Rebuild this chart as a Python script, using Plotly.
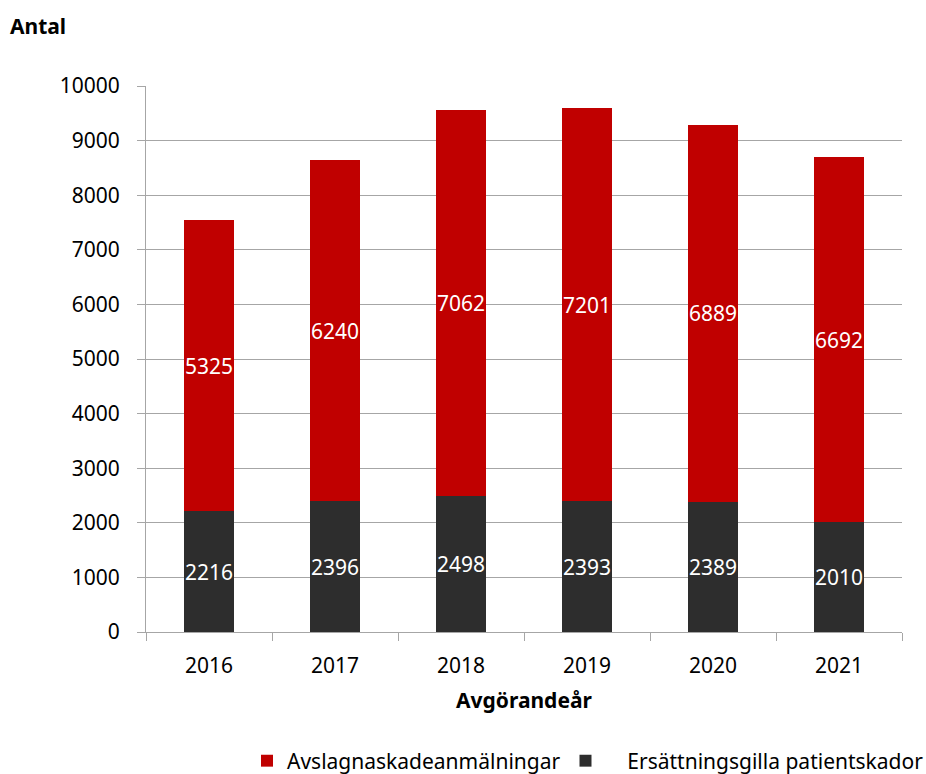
import plotly.graph_objects as go

years = ["2016", "2017", "2018", "2019", "2020", "2021"]
ersattningsgilla = [2216, 2396, 2498, 2393, 2389, 2010]
avslag = [5325, 6240, 7062, 7201, 6889, 6692]
y_ticks = list(range(0, 10001, 1000))
y_tick_labels = [str(v) for v in y_ticks]

FONT = "Noto Sans"
W, H = 926, 774
ML, MR, MT, MB = 146, 24, 86, 142
PH = H - MT - MB
PW = W - ML - MR

fig = go.Figure()
fig.add_trace(go.Bar(
    x=years, y=ersattningsgilla,
    name="\u00a0\u00a0\u00a0\u00a0Ersättningsgilla patientskador",
    marker=dict(color="#2d2d2d", line=dict(width=0)),
    text=[str(v) for v in ersattningsgilla], textposition="inside",
    insidetextanchor="middle", textangle=0, constraintext="none",
    textfont=dict(color="white", size=21, family=FONT), width=0.4,
))
fig.add_trace(go.Bar(
    x=years, y=avslag, name="Avslagnaskadeanmälningar",
    marker=dict(color="#c00000", line=dict(width=0)),
    text=[str(v) for v in avslag], textposition="inside",
    insidetextanchor="middle", textangle=0, constraintext="none",
    textfont=dict(color="white", size=21, family=FONT), width=0.4,
))

fig.update_layout(
    width=W, height=H, barmode="stack",
    margin=dict(l=ML, r=MR, t=MT, b=MB, autoexpand=False),
    paper_bgcolor="white", plot_bgcolor="white",
    font=dict(family=FONT, size=21, color="#000000"),
    showlegend=True,
    legend=dict(orientation="h", x=1.0 + 27 / PW, xanchor="right",
                y=-(761 - (H - MB)) / PH, yanchor="middle",
                traceorder="reversed", font=dict(size=21, family=FONT),
                itemwidth=30, bgcolor="rgba(0,0,0,0)"),
    title=dict(text="<b>Antal</b>", x=10 / W, xanchor="left", xref="container",
               y=1 - 27 / H, yanchor="middle", yref="container",
               font=dict(size=21, family=FONT, color="#000000")),
)
fig.update_xaxes(
    showline=True, linecolor="#a6a6a6", linewidth=1, automargin=False,
    ticks="outside", ticklen=8, tickcolor="#a6a6a6", tickson="boundaries",
    showgrid=False, tickfont=dict(size=21, family=FONT), ticklabelstandoff=15,
)
fig.update_yaxes(
    range=[0, 10000], tickvals=y_ticks, ticktext=y_tick_labels,
    showline=True, linecolor="#a6a6a6", automargin=False,
    linewidth=1, ticks="outside", ticklen=8, tickcolor="#a6a6a6",
    showgrid=True, gridcolor="#a6a6a6", gridwidth=1, zeroline=False,
    tickfont=dict(size=21, family=FONT), ticklabelstandoff=13,
)
fig.add_annotation(text="<b>Avgörandeår</b>", xref="paper", yref="paper",
                   x=0.5, y=-(700 - (H - MB)) / PH, xanchor="center",
                   yanchor="middle", showarrow=False,
                   font=dict(size=21, family=FONT, color="#000000"))

fig.write_html("out.html", config={"displayModeBar": False},
               post_script="document.body.style.margin='0';document.body.style.overflow='hidden';")
